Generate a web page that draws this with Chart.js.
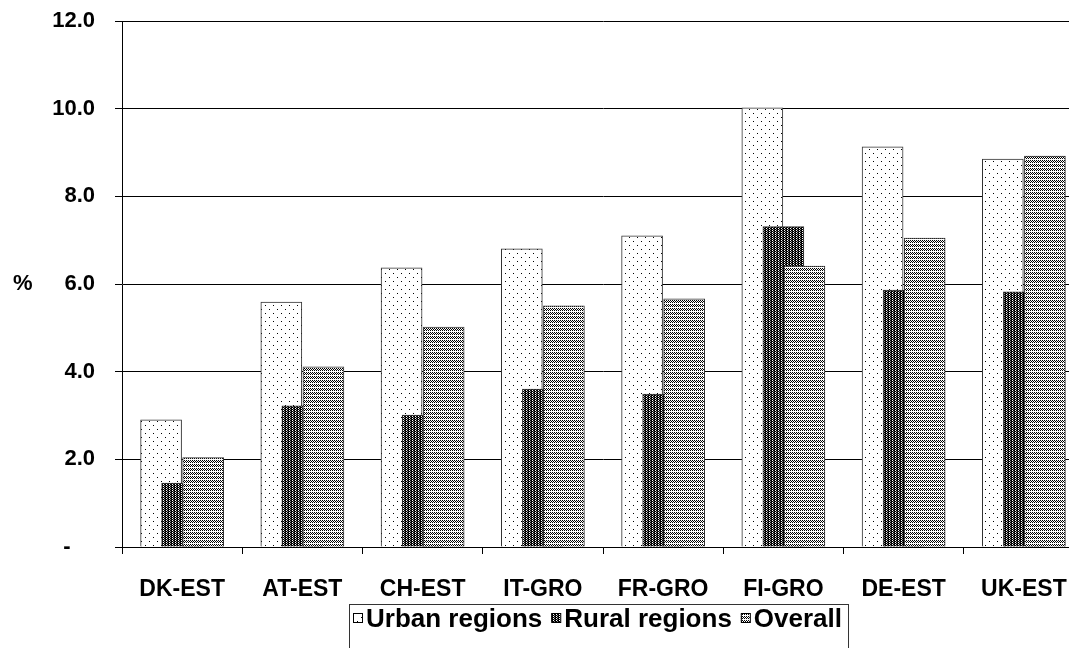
<!DOCTYPE html>
<html><head><meta charset="utf-8">
<script src="https://cdn.jsdelivr.net/npm/chart.js@4.4.0/dist/chart.umd.min.js"></script>
<style>html,body{margin:0;padding:0;overflow:hidden;background:#fff;width:1069px;height:648px}canvas{display:block}</style>
</head><body>
<canvas id="c" width="1084" height="648"></canvas>
<script>
const categories = ['DK-EST','AT-EST','CH-EST','IT-GRO','FR-GRO','FI-GRO','DE-EST','UK-EST'];
const urbanValues = [2.90, 5.59, 6.37, 6.80, 7.10, 10.02, 9.13, 8.85];
const ruralValues = [1.46, 3.22, 3.01, 3.60, 3.49, 7.31, 5.86, 5.82];
const overallValues = [2.04, 4.11, 5.02, 5.50, 5.66, 6.41, 7.05, 8.92];
const seriesNames = ['Urban regions', 'Rural regions', 'Overall'];
const yMin = 0, yMax = 12, yStep = 2;

const FONT = '"Liberation Sans", Arial, sans-serif';

function makePattern(w, h, bg, pixels) {
  const c = document.createElement('canvas');
  c.width = w; c.height = h;
  const x = c.getContext('2d');
  x.fillStyle = bg; x.fillRect(0, 0, w, h);
  pixels.forEach(([px, py, col]) => { x.fillStyle = col; x.fillRect(px, py, 1, 1); });
  return x.createPattern(c, 'repeat');
}
const pUrban = makePattern(8, 8, '#fff', [[1,1,'#000'],[5,5,'#000']]);
const pRural = makePattern(3, 2, '#000', [[1,0,'#fff'],[2,1,'#888']]);
const pOverall = makePattern(2, 4, '#fff', [[0,0,'#000'],[1,1,'#000'],[0,2,'#000']]);

const offsets = [-0.175, 0, 0.175];
function toPoints(vals, k) { return vals.map((v, i) => ({x: i + offsets[k], y: v})); }

const common = {xAxisID: 'xb', yAxisID: 'y', borderColor: '#333', borderWidth: 1, barThickness: 41, grouped: false};

const extras = {
  id: 'extras',
  afterDraw(chart) {
    const ctx = chart.ctx;
    const ca = chart.chartArea;
    ctx.save();
    ctx.fillStyle = '#000';
    ctx.font = 'bold 22px ' + FONT;
    ctx.textBaseline = 'middle';
    ctx.textAlign = 'left';
    ctx.fillText('%', 13, (ca.top + ca.bottom) / 2);
    ctx.font = 'bold 26px ' + FONT;
    ctx.textBaseline = 'alphabetic';
    let x = 353;
    const boxLeft = 349;
    chart.data.datasets.forEach((ds) => {
      ctx.fillStyle = ds.backgroundColor;
      ctx.fillRect(x, 613, 9, 9);
      ctx.strokeStyle = '#000'; ctx.lineWidth = 1;
      ctx.strokeRect(x + 0.5, 613.5, 9, 9);
      ctx.fillStyle = '#000';
      ctx.fillText(ds.label, x + 13, 627);
      x = x + 13 + ctx.measureText(ds.label).width + 9;
    });
    ctx.strokeStyle = '#333'; ctx.lineWidth = 1;
    ctx.strokeRect(boxLeft + 0.5, 604.5, (x - 3) - boxLeft, 60);
    ctx.restore();
  }
};

new Chart(document.getElementById('c'), {
  type: 'bar',
  data: {
    labels: categories,
    datasets: [
      Object.assign({label: seriesNames[0], data: toPoints(urbanValues, 0), backgroundColor: pUrban, order: 3}, common),
      Object.assign({label: seriesNames[1], data: toPoints(ruralValues, 1), backgroundColor: pRural, order: 2}, common),
      Object.assign({label: seriesNames[2], data: toPoints(overallValues, 2), backgroundColor: pOverall, order: 1}, common)
    ]
  },
  options: {
    responsive: false, animation: false, devicePixelRatio: 1,
    layout: {padding: {top: 21, left: 0, right: 0, bottom: 0}},
    plugins: {legend: {display: false}, tooltip: {enabled: false}},
    scales: {
      x: {
        type: 'category', labels: categories, offset: true, position: 'bottom',
        grid: {offset: true, drawOnChartArea: false, tickLength: 7, color: '#000'},
        border: {color: '#000', width: 1},
        ticks: {font: {family: FONT, size: 23, weight: 'bold'}, color: '#000', padding: 22, maxRotation: 0, autoSkip: false},
        afterFit: (s) => { s.height = 101; s.paddingLeft = 0; s.paddingRight = 0; }
      },
      xb: {type: 'linear', display: false, offset: false, min: -0.5, max: categories.length - 0.5},
      y: {
        min: yMin, max: yMax,
        ticks: {stepSize: yStep, font: {family: FONT, size: 22, weight: 'bold'}, color: '#000', padding: 20,
          callback: (v) => v === 0 ? '-\u2007\u2007' : v.toFixed(1)},
        grid: {color: '#000', tickLength: 7, lineWidth: 1},
        border: {color: '#000', width: 1},
        afterFit: (s) => { s.width = 122; s.paddingTop = 0; s.paddingBottom = 0; }
      }
    }
  },
  plugins: [extras]
});
</script>
</body></html>
